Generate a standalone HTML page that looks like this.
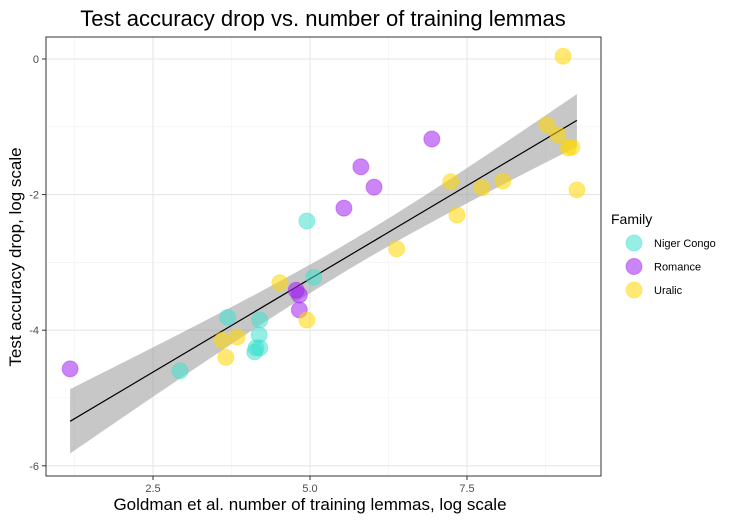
<!DOCTYPE html>
<html><head><meta charset="utf-8"><style>
body{margin:0;background:#fff;font-family:"Liberation Sans",sans-serif;}
svg text{font-family:"Liberation Sans",sans-serif;}
</style></head><body>
<svg id="chart" width="735" height="521">
<text x="323" y="26" font-size="22" text-anchor="middle">Test accuracy drop vs. number of training lemmas</text>
<g id="grid"></g>
<g id="band"></g>
<g id="pts"></g>
<rect x="46" y="37" width="555" height="439" fill="none" stroke="#333" stroke-width="1"/>
<g id="axes"></g>
<text x="310" y="510" font-size="17" text-anchor="middle">Goldman et al. number of training lemmas, log scale</text>
<text transform="translate(21,257) rotate(-90)" font-size="17" text-anchor="middle">Test accuracy drop, log scale</text>
<g id="legend"></g>
</svg>
<script>
const families = ["Niger Congo","Romance","Uralic"];
const colors = ["#40E0D0","#A020F0","#FFD700"];
const ncX = [4.95,5.06,3.69,4.20,4.19,4.14,4.20,4.12,2.93];
const ncY = [-2.39,-3.22,-3.81,-3.85,-4.07,-4.26,-4.26,-4.32,-4.60];
const roX = [1.18,6.94,5.81,6.02,5.54,4.78,4.83,4.83];
const roY = [-4.57,-1.18,-1.59,-1.89,-2.20,-3.41,-3.48,-3.70];
const urX = [9.03,8.77,8.95,9.11,9.17,9.25,7.24,7.74,8.07,7.34,6.38,4.52,4.95,3.84,3.60,3.66];
const urY = [0.04,-0.97,-1.12,-1.31,-1.30,-1.93,-1.81,-1.90,-1.80,-2.30,-2.80,-3.30,-3.85,-4.10,-4.15,-4.40];
const xTicks = [2.5,5.0,7.5];
const xTickLabels = ["2.5","5.0","7.5"];
const yTicks = [0,-2,-4,-6];
const yTickLabels = ["0","-2","-4","-6"];

const X = v => -4 + 62.8*v;
const Y = v => 59 - 67.8*v;
const NS="http://www.w3.org/2000/svg";
function mk(tag, attrs, parent){const e=document.createElementNS(NS,tag);for(const k in attrs)e.setAttribute(k,attrs[k]);parent.appendChild(e);return e;}
const grid=document.getElementById('grid'), axes=document.getElementById('axes');
// grid
[1.25,3.75,6.25,8.75].forEach(v=>{const l=mk('line',{x1:X(v),x2:X(v),y1:37,y2:476,stroke:'#f2f2f2','stroke-width':0.6},grid);});
[-1,-3,-5].forEach(v=>{const l=mk('line',{x1:46,x2:601,y1:Y(v),y2:Y(v),stroke:'#f2f2f2','stroke-width':0.6},grid);});
xTicks.forEach((v,i)=>{
 const g=mk('line',{x1:X(v),x2:X(v),y1:37,y2:476,stroke:'#e6e6e6','stroke-width':1.1},grid);
 
 const t=mk('line',{x1:X(v),x2:X(v),y1:476,y2:480,stroke:'#333'},axes);
 
 const tx=mk('text',{x:X(v),y:492,'font-size':11,fill:'#4d4d4d','text-anchor':'middle'},axes);tx.textContent=xTickLabels[i];
 
});
yTicks.forEach((v,i)=>{
 const g=mk('line',{x1:46,x2:601,y1:Y(v),y2:Y(v),stroke:'#e6e6e6','stroke-width':1.1},grid);
 
 const t=mk('line',{x1:42,x2:46,y1:Y(v),y2:Y(v),stroke:'#333'},axes);
 
 const tx=mk('text',{x:39,y:Y(v)+4,'font-size':11,fill:'#4d4d4d','text-anchor':'end'},axes);tx.textContent=yTickLabels[i];
 
});
// regression
const ax=[...ncX,...roX,...urX], ay=[...ncY,...roY,...urY], n=ax.length;
const mx=ax.reduce((a,b)=>a+b)/n, my=ay.reduce((a,b)=>a+b)/n;
let sxx=0,sxy=0;for(let i=0;i<n;i++){sxx+=(ax[i]-mx)**2;sxy+=(ax[i]-mx)*(ay[i]-my);}
const b=sxy/sxx,a=my-b*mx;let sse=0;for(let i=0;i<n;i++)sse+=(ay[i]-a-b*ax[i])**2;
const s=Math.sqrt(sse/(n-2)),tq=2.03;
const xmin=Math.min(...ax),xmax=Math.max(...ax);
let up=[],lo=[];
for(let k=0;k<=80;k++){const x=xmin+(xmax-xmin)*k/80,f=a+b*x,se=s*Math.sqrt(1/n+(x-mx)**2/sxx);up.push(X(x)+','+Y(f+tq*se));lo.unshift(X(x)+','+Y(f-tq*se));}
const band=document.getElementById('band');
const bp=mk('polygon',{points:up.concat(lo).join(' '),fill:'#999','fill-opacity':0.55},band);

const rl=mk('line',{x1:X(xmin),y1:Y(a+b*xmin),x2:X(xmax),y2:Y(a+b*xmax),stroke:'#000','stroke-width':1.2},band);

// points
const pts=document.getElementById('pts');
[[ncX,ncY],[roX,roY],[urX,urY]].forEach((s,fi)=>{
 s[0].forEach((x,i)=>{
  const c=mk('circle',{cx:X(x),cy:Y(s[1][i]),r:8,fill:colors[fi],'fill-opacity':0.55,stroke:colors[fi],'stroke-opacity':0.4},pts);
  
  
 });
});
// legend
const lg=document.getElementById('legend');
const lt=mk('text',{x:611,y:224,'font-size':14},lg);lt.textContent='Family';

families.forEach((f,i)=>{
 const y=243+23.5*i;
 const c=mk('circle',{cx:634,cy:y,r:8,fill:colors[i],'fill-opacity':0.55,stroke:colors[i],'stroke-opacity':0.4},lg);
 
 const t=mk('text',{x:654,y:y+4,'font-size':11},lg);t.textContent=f;
 
});
</script>
</body></html>
